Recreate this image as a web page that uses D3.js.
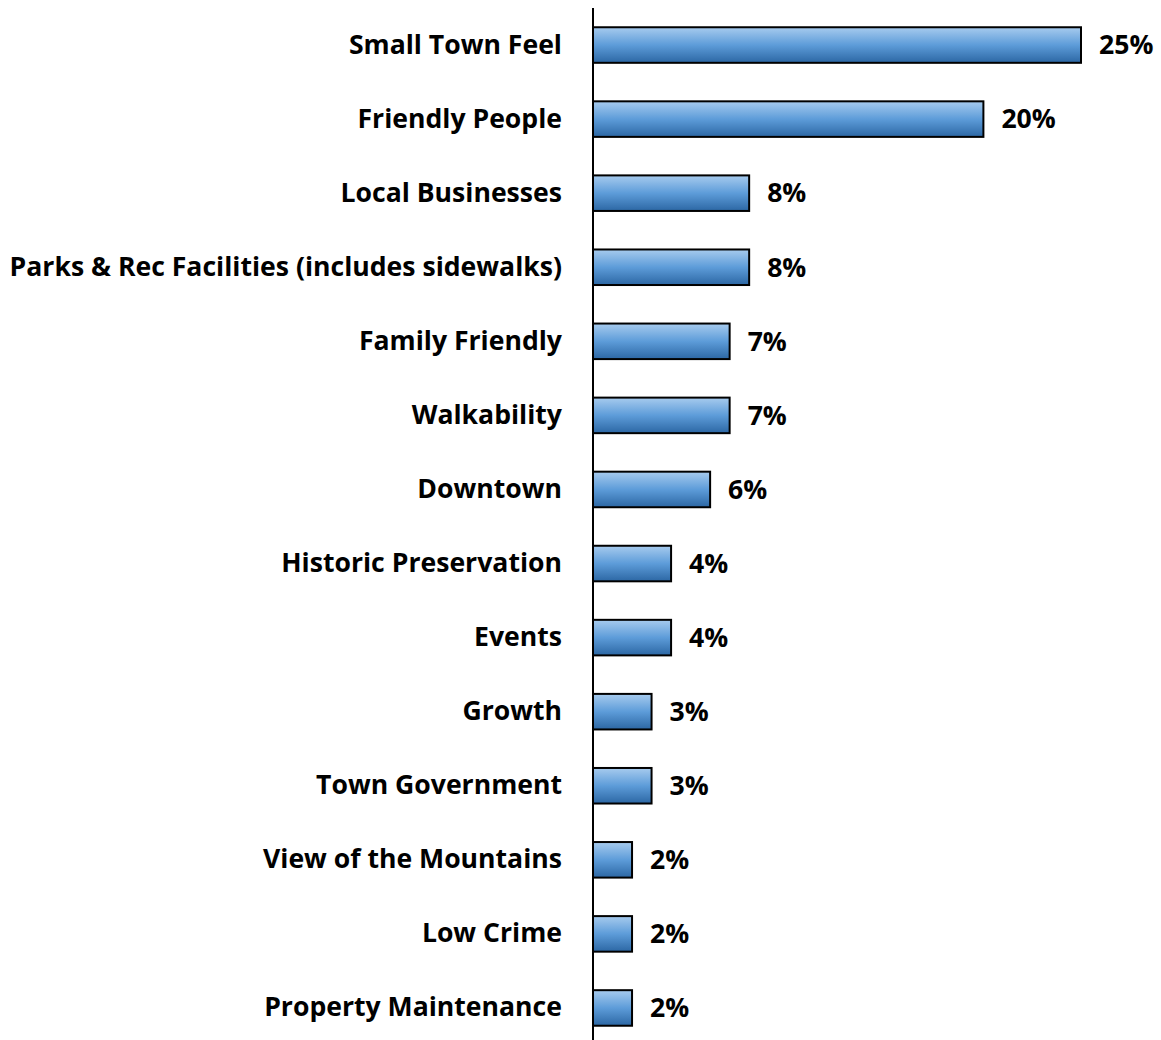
<!DOCTYPE html>
<html>
<head>
<meta charset="utf-8">
<script src="https://cdn.jsdelivr.net/npm/d3@7"></script>
<style>
  html, body { margin: 0; padding: 0; background: #fff; }
  svg { display: block; }
  text { font-family: "Open Sans", "Noto Sans", sans-serif; font-weight: 700; fill: #000; }
</style>
</head>
<body>
<svg id="chart" width="1161" height="1040"></svg>
<script>
// Survey responses: what people like most about the town
const categories = [
  "Small Town Feel",
  "Friendly People",
  "Local Businesses",
  "Parks & Rec Facilities (includes sidewalks)",
  "Family Friendly",
  "Walkability",
  "Downtown",
  "Historic Preservation",
  "Events",
  "Growth",
  "Town Government",
  "View of the Mountains",
  "Low Crime",
  "Property Maintenance"
];
const values = [25, 20, 8, 8, 7, 7, 6, 4, 4, 3, 3, 2, 2, 2];
const valueLabels = ["25%", "20%", "8%", "8%", "7%", "7%", "6%", "4%", "4%", "3%", "3%", "2%", "2%", "2%"];

const svg = d3.select("#chart");
const x0 = 593;
const fontSize = 26.6;

const x = d3.scaleLinear().domain([0, 25]).range([x0, 1081]);
const y = d3.scaleBand().domain(categories).range([8, 1045]).paddingInner(0.52).paddingOuter(0.26);

const defs = svg.append("defs");
const grad = defs.append("linearGradient")
  .attr("id", "barFill").attr("x1", 0).attr("y1", 0).attr("x2", 0).attr("y2", 1);
grad.append("stop").attr("offset", "0%").attr("stop-color", "#a7cbee");
grad.append("stop").attr("offset", "50%").attr("stop-color", "#5d9cd9");
grad.append("stop").attr("offset", "100%").attr("stop-color", "#2c67a4");

const rows = svg.append("g").selectAll("g")
  .data(categories.map((c, i) => ({ c, v: values[i], l: valueLabels[i] })))
  .join("g");

rows.append("rect")
  .attr("x", x(0))
  .attr("y", d => y(d.c))
  .attr("width", d => x(d.v) - x(0))
  .attr("height", y.bandwidth())
  .attr("fill", "url(#barFill)")
  .attr("stroke", "#000")
  .attr("stroke-width", 2);

rows.append("text")
  .attr("x", d => x(d.v) + 18)
  .attr("y", d => y(d.c) + y.bandwidth() / 2)
  .attr("dy", "0.35em")
  .attr("font-size", fontSize)
  .text(d => d.l);

// category axis: vertical line with labels, no ticks
const axis = d3.axisLeft(y).tickSize(0).tickPadding(31);
const ag = svg.append("g").attr("transform", `translate(${x0},0)`).call(axis);
ag.select(".domain").remove();
ag.selectAll("text")
  .attr("font-size", fontSize)
  .style("font-family", "\"Open Sans\", sans-serif")
  .style("font-weight", 700)
  .attr("fill", "#000");

svg.append("line")
  .attr("x1", x0).attr("x2", x0)
  .attr("y1", 8).attr("y2", 1040)
  .attr("stroke", "#000").attr("stroke-width", 2);
</script>
</body>
</html>
